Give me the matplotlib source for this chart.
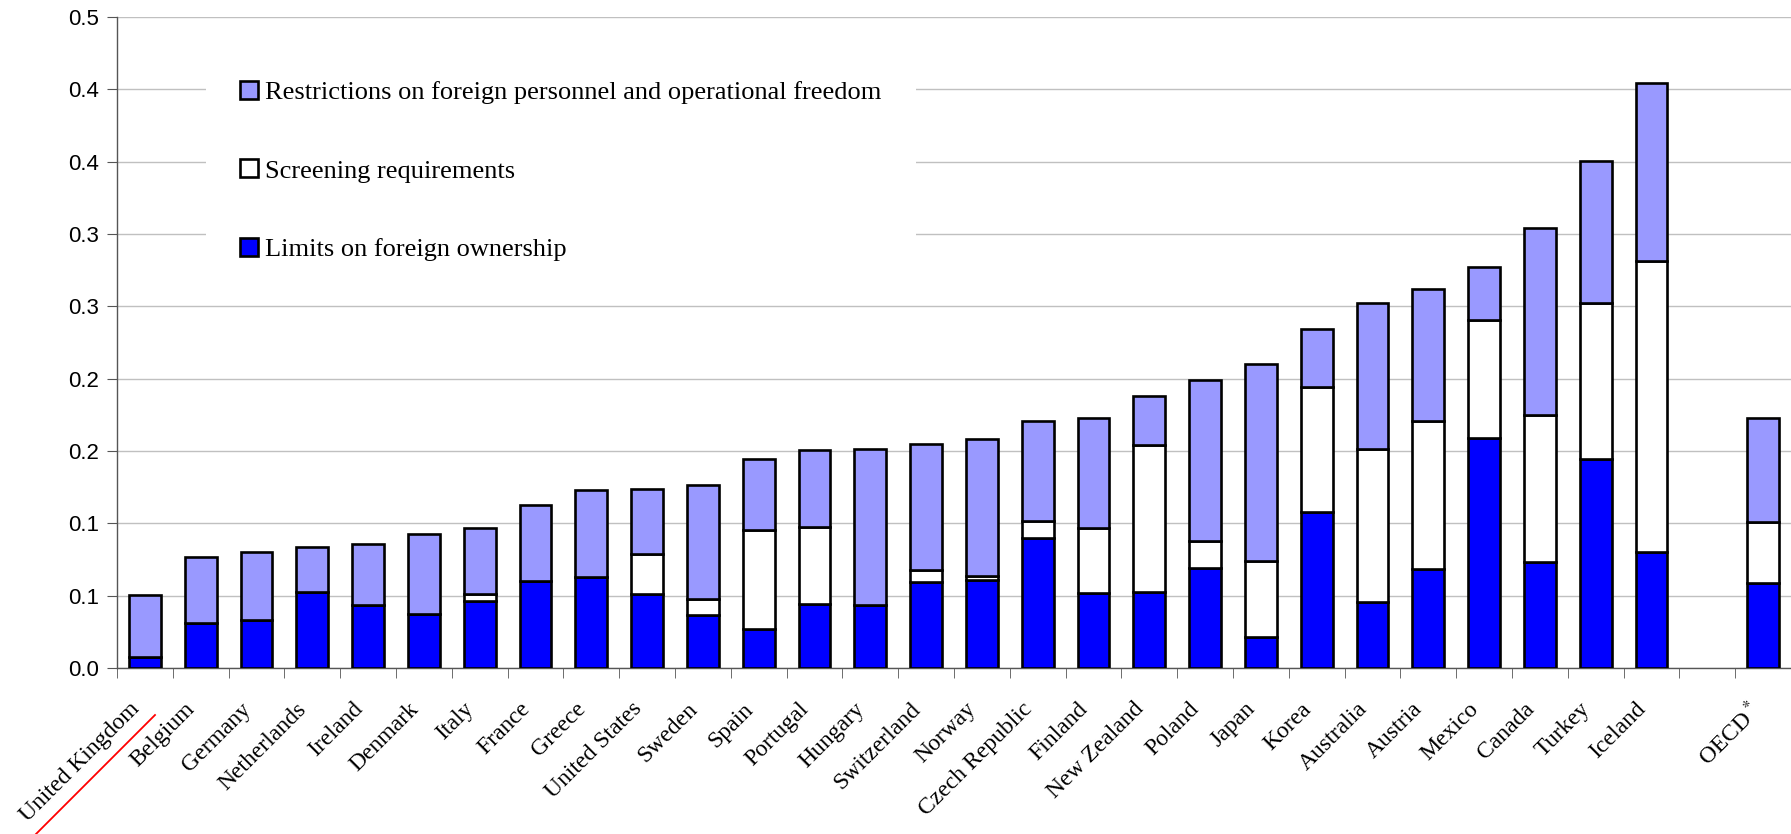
import numpy as np
import matplotlib
matplotlib.use("Agg")
import matplotlib.pyplot as plt
from matplotlib.patches import Patch
from matplotlib.lines import Line2D

# data
countries = ['United Kingdom', 'Belgium', 'Germany', 'Netherlands', 'Ireland',
             'Denmark', 'Italy', 'France', 'Greece', 'United States', 'Sweden',
             'Spain', 'Portugal', 'Hungary', 'Switzerland', 'Norway',
             'Czech Republic', 'Finland', 'New Zealand', 'Poland', 'Japan',
             'Korea', 'Australia', 'Austria', 'Mexico', 'Canada', 'Turkey',
             'Iceland', '', 'OECD$^*$']
ownership = [0.0076, 0.0311, 0.0334, 0.0523, 0.0433, 0.0373, 0.0461, 0.0604,
             0.0629, 0.0512, 0.0369, 0.0272, 0.0445, 0.0438, 0.0597, 0.0611,
             0.0899, 0.0518, 0.0525, 0.0692, 0.0212, 0.1076, 0.0455, 0.0681,
             0.1593, 0.0734, 0.1444, 0.0799, 0.0, 0.0590]
screening = [0.0, 0.0, 0.0, 0.0, 0.0, 0.0, 0.0053, 0.0, 0.0, 0.0278, 0.0106,
             0.0682, 0.0530, 0.0, 0.0083, 0.0027, 0.0117, 0.0450, 0.1016,
             0.0187, 0.0528, 0.0865, 0.1062, 0.1028, 0.0811, 0.1017, 0.1079,
             0.2017, 0.0, 0.0421]
personnel = [0.0431, 0.0454, 0.0466, 0.0313, 0.0426, 0.0553, 0.0456, 0.0523,
             0.0601, 0.0445, 0.0792, 0.0491, 0.0535, 0.1074, 0.0866, 0.0945,
             0.0691, 0.0762, 0.0337, 0.1113, 0.1359, 0.0401, 0.1008, 0.0910,
             0.0367, 0.1289, 0.0980, 0.1229, 0.0, 0.0715]
yticks = [0.0, 0.05, 0.10, 0.15, 0.20, 0.25, 0.30, 0.35, 0.40, 0.45]
ytick_labels = ['0.0', '0.1', '0.1', '0.2', '0.2', '0.3', '0.3', '0.4', '0.4', '0.5']

series_names = ['Limits on foreign ownership', 'Screening requirements',
                'Restrictions on foreign personnel and operational freedom']
colors = ['#0000FF', '#FFFFFF', '#9999FF']

plt.rcParams['mathtext.fontset'] = 'stix'
serif = 'Liberation Serif'
sans = 'Liberation Sans'

fig = plt.figure(figsize=(17.91, 8.34), dpi=100)
ax = fig.add_axes([117/1791, 1 - 668/834, 1 - 117/1791, (668 - 17)/834])

x = np.arange(len(countries))
mask = np.array([c != '' for c in countries])
bottom = np.zeros(len(countries))
for vals, col, name in zip([ownership, screening, personnel], colors, series_names):
    vals = np.array(vals)
    ax.bar(x[mask], vals[mask], 0.57, bottom=bottom[mask], color=col,
           edgecolor='black', linewidth=1.9, label=name, zorder=3)
    bottom += vals

ax.set_xlim(-0.5, 29.5 - 6/56.0)
ax.set_ylim(0, 0.45)
ax.set_yticks(yticks)
ax.set_yticklabels(ytick_labels, fontsize=16, family=sans)
ax.yaxis.grid(True, color='#C0C0C0', lw=1.0, zorder=0)
ax.set_axisbelow(True)

# labels sit a little left of the bar centres, as in the original
ax.set_xticks(x - 0.29)
ax.set_xticklabels(countries, rotation=45, ha='right', va='top',
                   rotation_mode='anchor', fontsize=17, family=serif)
ax.set_xticks(np.arange(-0.5, 30, 1), minor=True)
ax.tick_params(axis='x', which='major', length=0, pad=22)
ax.tick_params(axis='x', which='minor', length=7, direction='out', color='#555555')
ax.tick_params(axis='y', length=7, direction='out', color='#555555', pad=6)

for s in ['top', 'right']:
    ax.spines[s].set_visible(False)
for s in ['left', 'bottom']:
    ax.spines[s].set_color('#555555')
    ax.spines[s].set_linewidth(1.0)

handles = [Patch(facecolor=c, edgecolor='black', linewidth=1.9) for c in colors][::-1]
leg = ax.legend(handles, series_names[::-1], loc='upper left',
                bbox_to_anchor=(0.0532, 0.955), frameon=True, fancybox=False,
                facecolor='white', edgecolor='none', framealpha=1,
                prop={'family': serif, 'size': 19},
                handlelength=0.68, handleheight=0.68, handletextpad=0.25,
                labelspacing=2.1, borderpad=1.3, borderaxespad=0)
leg.set_zorder(2)

# red underline mark beside the first label
fig.add_artist(Line2D([36/1791, 155/1791], [1 - 834/834, 1 - 715/834],
                      color='red', lw=1.3))

fig.savefig('out.png', dpi=100)
